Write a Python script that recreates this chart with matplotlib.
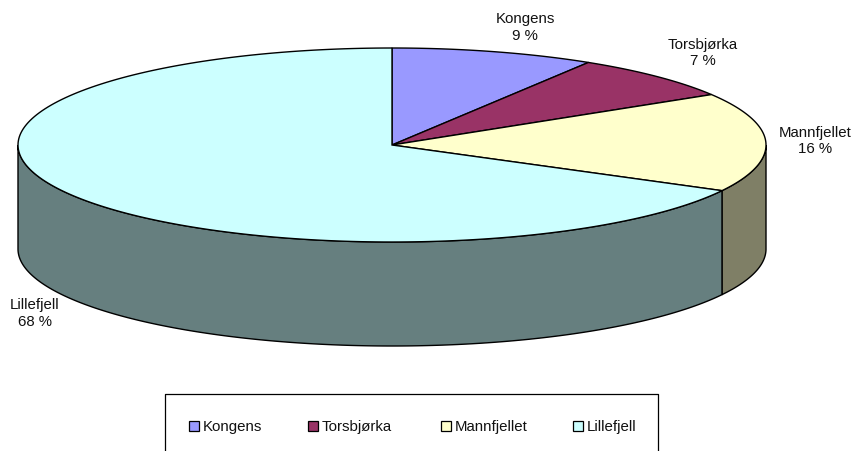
import numpy as np
import matplotlib
matplotlib.use('Agg')
import matplotlib.pyplot as plt
from matplotlib.patches import Rectangle

plt.rcParams['font.family'] = ['Liberation Sans', 'DejaVu Sans']

labels = ['Kongens', 'Torsbjørka', 'Mannfjellet', 'Lillefjell']
# slice sizes as read from the drawn rim, the chart's own labels are rounded
values = [8.8, 7.5, 16.5, 67.2]
pct_labels = [9, 7, 16, 68]
top_colors = ['#9999ff', '#993366', '#ffffcc', '#ccffff']
side_colors = ['#66667f', '#7f3355', '#7f7f66', '#667f7f']
# label centre in pixels
label_pos = [(525, 27.5), (703, 53), (815, 141), (35, 313.5)]

cx, cy = 392, 146
rx, ry = 374, 97
depth = 104


def rim(a0, a1, n=200):
    # angles are clockwise from 12 o'clock
    t = np.radians(np.linspace(a0, a1, n))
    return cx + rx * np.sin(t), cy - ry * np.cos(t)


fig = plt.figure(figsize=(8.58, 4.52), dpi=100)
ax = fig.add_axes([0, 0, 1, 1])
ax.set_xlim(0, 858)
ax.set_ylim(452, 0)
ax.axis('off')

edges = np.concatenate([[0], np.cumsum(values)]) * 3.6

# side walls, only the front half (90 to 270 degrees) is seen
for i in range(len(values)):
    a0 = max(edges[i], 90)
    a1 = min(edges[i + 1], 270)
    if a1 > a0:
        x, y = rim(a0, a1)
        xs = np.concatenate([x, x[::-1]])
        ys = np.concatenate([y, y[::-1] + depth])
        ax.fill(xs, ys, facecolor=side_colors[i], edgecolor='black', lw=1.0, zorder=2)

# top of the pie goes over the walls
for i in range(len(values)):
    x, y = rim(edges[i], edges[i + 1])
    ax.fill(np.concatenate([[cx], x]), np.concatenate([[cy], y]),
            facecolor=top_colors[i], edgecolor='black', lw=1.0, zorder=3)

# data labels
for i in range(len(values)):
    ax.text(label_pos[i][0], label_pos[i][1], '%s\n%d %%' % (labels[i], pct_labels[i]),
            ha='center', va='center', fontsize=10.8, color='#111111', linespacing=1.27)

# legend box, cut off by the bottom edge of the image
ax.plot([165, 165, 658, 658], [452, 395, 395, 452], color='black', lw=0.9)
leg_x = [189, 308, 441, 573]
for i in range(len(values)):
    ax.add_patch(Rectangle((leg_x[i], 421.5), 10, 10, facecolor=top_colors[i],
                           edgecolor='black', lw=0.9))
    ax.text(leg_x[i] + 14, 427, labels[i], ha='left', va='center', fontsize=10.8,
            color='#111111')

fig.savefig('out.png', dpi=100)
